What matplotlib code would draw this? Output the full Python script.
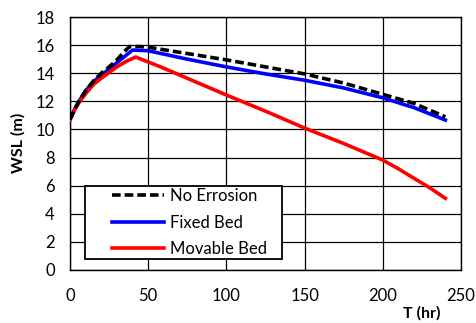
import matplotlib
matplotlib.use("Agg")
import matplotlib.pyplot as plt
from matplotlib.patches import Rectangle

t_black = [0, 3, 6, 10, 15, 20, 25, 30, 34, 38, 45, 50, 75, 100, 125, 150, 175, 200, 220, 240]
wsl_black = [10.7, 11.45, 12.05, 12.75, 13.45, 14.0, 14.45, 14.95, 15.45, 15.9, 15.9, 15.85, 15.4, 14.95, 14.45, 13.95, 13.3, 12.5, 11.85, 10.9]

t_blue = [0, 3, 6, 10, 15, 20, 25, 30, 35, 40, 50, 75, 100, 125, 150, 175, 200, 220, 240]
wsl_blue = [10.7, 11.45, 12.05, 12.75, 13.4, 13.85, 14.3, 14.75, 15.2, 15.65, 15.6, 15.0, 14.45, 13.95, 13.5, 12.95, 12.25, 11.55, 10.67]

t_red = [0, 3, 6, 10, 15, 20, 25, 30, 36, 42, 58, 80, 100, 125, 150, 175, 200, 210, 220, 230, 240]
wsl_red = [10.7, 11.4, 11.95, 12.55, 13.2, 13.65, 14.05, 14.45, 14.85, 15.15, 14.45, 13.4, 12.45, 11.3, 10.1, 9.0, 7.82, 7.2, 6.52, 5.85, 5.1]

xticks = [0, 50, 100, 150, 200, 250]
yticks = [0, 2, 4, 6, 8, 10, 12, 14, 16, 18]

plt.rcParams['font.family'] = ['Lato', 'DejaVu Sans']

W, H = 476, 323
fig = plt.figure(figsize=(W / 100, H / 100), dpi=100)
ax = fig.add_axes([70 / W, 1 - 270 / H, 391 / W, 253 / H])

ax.plot(t_black, wsl_black, color='black', lw=2.6, ls=(0, (2.4, 1.1)), label='No Errosion', zorder=4)
ax.plot(t_blue, wsl_blue, color='#0000ff', lw=2.6, label='Fixed Bed', zorder=3)
ax.plot(t_red, wsl_red, color='#ff0000', lw=2.6, label='Movable Bed', zorder=3)

ax.set_xlim(0, 250)
ax.set_ylim(0, 18)
ax.set_xticks(xticks)
ax.set_yticks(yticks)
ax.grid(True, color='black', lw=0.9)
ax.set_axisbelow(True)
for s in ax.spines.values():
    s.set_color('black')
    s.set_linewidth(1.0)
ax.tick_params(axis='both', labelsize=12, colors='black', length=0)
ax.tick_params(axis='y', pad=11)
ax.tick_params(axis='x', pad=13)

fig.text(18 / W, 1 - 143 / H, 'WSL (m)', fontsize=11.5, fontweight='bold', rotation=90,
         ha='center', va='center')
fig.text(422 / W, 1 - 313 / H, 'T (hr)', fontsize=11.5, fontweight='bold', ha='center', va='center')

x0, x1 = (85 - 70) / 391, (282 - 70) / 391
y0, y1 = (270 - 259) / 253, (270 - 185.7) / 253
ax.add_patch(Rectangle((x0, y0), x1 - x0, y1 - y0, transform=ax.transAxes,
                       facecolor='white', edgecolor='black', lw=1.3, zorder=5))

leg = ax.legend(loc='center left', bbox_to_anchor=((112 - 70) / 391, (270 - 222.5) / 253),
                fontsize=12, frameon=False, borderaxespad=0, borderpad=0,
                handlelength=3.1, labelspacing=0.62, handletextpad=0.35)
leg.set_zorder(6)

fig.savefig('out.png', dpi=100)
